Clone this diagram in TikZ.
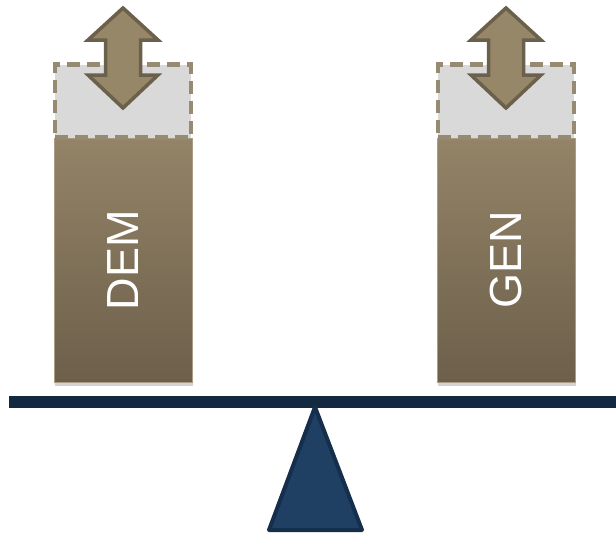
\documentclass[tikz,border=0pt]{standalone}
\usepackage{fontspec}
\setmainfont{Liberation Sans}
\usetikzlibrary{shadows}
\definecolor{barTop}{HTML}{938468}
\definecolor{barBot}{HTML}{6D5F4A}
\definecolor{boxLine}{HTML}{978A72}
\definecolor{boxFill}{HTML}{D9D9D9}
\definecolor{arrFill}{HTML}{978769}
\definecolor{arrLine}{HTML}{6B604C}
\definecolor{beamCol}{HTML}{13293F}
\definecolor{baseFill}{HTML}{1F3F63}
\definecolor{baseLine}{HTML}{142E4C}
\tikzset{
  bar/.style={minimum width=138pt,minimum height=244pt,inner sep=0pt,
    top color=barTop,bottom color=barBot,draw=barTop!80!white,line width=0.8pt,
    drop shadow={shadow xshift=1pt,shadow yshift=-4pt,opacity=0.35}},
  slot/.style={minimum width=136pt,minimum height=73pt,inner sep=0pt,
    fill=boxFill,draw=boxLine,line width=4.2pt,dash pattern=on 13pt off 7pt},
  barlabel/.style={rotate=90,text=white,font=\fontsize{45}{50}\selectfont}
}
\begin{document}
\begin{tikzpicture}[x=1pt,y=-1pt]
\useasboundingbox (0,0) rectangle (616,538);
% bars with their labels
\node[bar] (dembar) at (123,260) {};
\node[barlabel] (dem) at (dembar) {DEM};
\node[bar] (genbar) at (506,260) {};
\node[barlabel] (gen) at (genbar) {GEN};
% dashed slots on top of the bars
\node[slot] (demslot) at (123,101) {};
\node[slot] (genslot) at (506,101) {};
% up/down arrows
\foreach \cx in {123,506} {
  \draw[fill=arrFill,draw=arrLine,line width=3.5pt,line join=miter]
    (\cx,8) -- (\cx+35,40) -- (\cx+17.5,40) -- (\cx+17.5,75) -- (\cx+35,75) -- (\cx,108)
    -- (\cx-35,75) -- (\cx-17.5,75) -- (\cx-17.5,40) -- (\cx-35,40) -- cycle;
}
% beam and pivot
\draw[beamCol,line width=12pt] (9,402) -- (616,402);
\draw[fill=baseFill,draw=baseLine,line width=4pt,line join=round]
  (315,407) -- (362,530) -- (269,530) -- cycle;
\end{tikzpicture}
\end{document}
